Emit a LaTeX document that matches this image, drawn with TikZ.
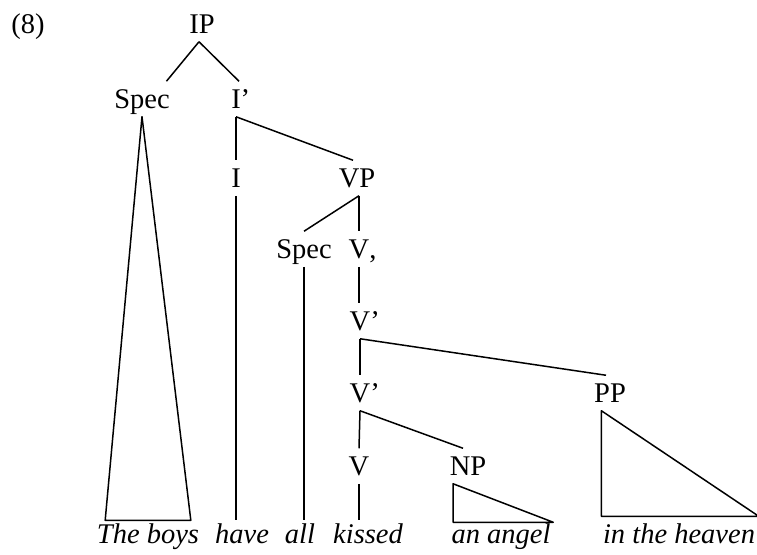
\documentclass[tikz,border=0pt]{standalone}
\usepackage{fontspec}
\setmainfont{Liberation Serif}

\begin{document}
\begin{tikzpicture}[x=1pt,y=-1pt,line width=1.5pt,line join=round]
    \tikzstyle{cat}=[anchor=base,font=\fontsize{28.5}{34}\selectfont,text height=18pt,text depth=0pt,inner xsep=2pt,inner ysep=8pt]
    \tikzstyle{word}=[cat,font=\fontsize{28.5}{34}\selectfont\itshape,inner ysep=4pt]
    \useasboundingbox (0,0) rectangle (757,554);
    % example number
    \node[cat] (ex) at (28,33) {(8)};
    % categories
    \node[cat] (IP) at (202,33) {IP};
    \node[cat] (specI) at (142,108) {Spec};
    \node[cat] (Ibar) at (236,108) {I\rlap{’}};
    \node[cat] (I) at (236,187) {I};
    \node[cat] (VP) at (357,187) {VP};
    \node[cat] (specV) at (304,258) {Spec};
    \node[cat] (Vc) at (359,258) {V\rlap{,}};
    \node[cat] (Vbarup) at (360,330) {V\rlap{’}};
    \node[cat] (Vbarlow) at (360,402) {V\rlap{’}};
    \node[cat] (PP) at (610,402) {PP};
    \node[cat] (V) at (359,475) {V};
    \node[cat] (NP) at (468,475) {NP};
    % words
    \node[word] (boys) at (148,543) {The boys};
    \node[word] (have) at (242,543) {have};
    \node[word] (all) at (300,543) {all};
    \node[word] (kissed) at (368,543) {kissed};
    \node[word] (angel) at (501,543) {an angel};
    \node[word] (heaven) at (679,543) {in the heaven};
    % branches
    \draw ([xshift=-3pt]IP.south) -- ([xshift=-6pt]specI.north east);
    \draw ([xshift=-3pt]IP.south) -- ([xshift=3pt]Ibar.north);
    \draw (Ibar.south) -- (I.north);
    \draw (Ibar.south) -- ([xshift=-4pt]VP.north);
    \draw ([xshift=2pt]VP.south) -- (specV.north);
    \draw ([xshift=2pt]VP.south) -- (Vc.north);
    \draw (Vc.south) -- (Vc.south |- Vbarup.north);
    \draw (Vbarup.south) -- (Vbarlow.north);
    \draw (Vbarup.south) -- ([xshift=-4pt]PP.north);
    \draw (Vbarlow.south) -- (V.north);
    \draw (Vbarlow.south) -- ([xshift=-5pt]NP.north);
    % terminals
    \draw (specI.south) -- ([xshift=11pt]boys.north west) -- ([xshift=-11pt]boys.north east) -- cycle;
    \draw (I.south) -- (I.south |- have.north);
    \draw (specV.south) -- (specV.south |- all.north);
    \draw (V.south) -- (V.south |- kissed.north);
    \draw ([xshift=6pt]NP.south west) -- ([xshift=6pt,yshift=-2pt]NP.south west |- angel.north) -- ([yshift=-2pt]angel.north east) -- cycle;
    \draw ([xshift=10pt]PP.south west) -- ([xshift=10pt,yshift=4pt]PP.south west |- heaven.north) -- ([xshift=1pt,yshift=4pt]heaven.north east) -- cycle;
\end{tikzpicture}
\end{document}
